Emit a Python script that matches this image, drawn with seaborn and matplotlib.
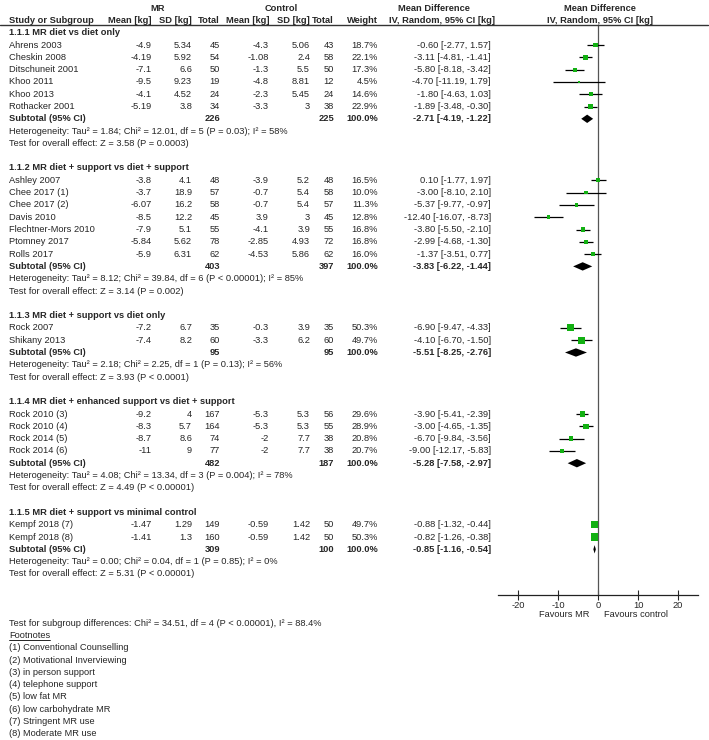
import numpy as np
import pandas as pd
import matplotlib
matplotlib.use("Agg")
import matplotlib.pyplot as plt
import matplotlib.transforms as mtransforms
import seaborn as sns

# ---- data ----
group_titles = ["1.1.1 MR diet vs diet only",
                "1.1.2 MR diet + support vs diet + support",
                "1.1.3 MR diet + support vs diet only",
                "1.1.4 MR diet + enhanced support vs diet + support",
                "1.1.5 MR diet + support vs minimal control"]

studies = ["Ahrens 2003", "Cheskin 2008", "Ditschuneit 2001", "Khoo 2011", "Khoo 2013", "Rothacker 2001",
           "Ashley 2007", "Chee 2017 (1)", "Chee 2017 (2)", "Davis 2010", "Flechtner-Mors 2010",
           "Ptomney 2017", "Rolls 2017",
           "Rock 2007", "Shikany 2013",
           "Rock 2010 (3)", "Rock 2010 (4)", "Rock 2014 (5)", "Rock 2014 (6)",
           "Kempf 2018 (7)", "Kempf 2018 (8)"]
study_group = [0] * 6 + [1] * 7 + [2] * 2 + [3] * 4 + [4] * 2

mr_mean = [-4.9, -4.19, -7.1, -9.5, -4.1, -5.19,
           -3.8, -3.7, -6.07, -8.5, -7.9, -5.84, -5.9,
           -7.2, -7.4,
           -9.2, -8.3, -8.7, -11,
           -1.47, -1.41]
mr_sd = [5.34, 5.92, 6.6, 9.23, 4.52, 3.8,
         4.1, 18.9, 16.2, 12.2, 5.1, 5.62, 6.31,
         6.7, 8.2,
         4, 5.7, 8.6, 9,
         1.29, 1.3]
mr_n = [45, 54, 50, 19, 24, 34,
        48, 57, 58, 45, 55, 78, 62,
        35, 60,
        167, 164, 74, 77,
        149, 160]
ctl_mean = [-4.3, -1.08, -1.3, -4.8, -2.3, -3.3,
            -3.9, -0.7, -0.7, 3.9, -4.1, -2.85, -4.53,
            -0.3, -3.3,
            -5.3, -5.3, -2, -2,
            -0.59, -0.59]
ctl_sd = [5.06, 2.4, 5.5, 8.81, 5.45, 3,
          5.2, 5.4, 5.4, 3, 3.9, 4.93, 5.86,
          3.9, 6.2,
          5.3, 5.3, 7.7, 7.7,
          1.42, 1.42]
ctl_n = [43, 58, 50, 12, 24, 38,
         48, 58, 57, 45, 55, 72, 62,
         35, 60,
         56, 55, 38, 38,
         50, 50]
weight = [18.7, 22.1, 17.3, 4.5, 14.6, 22.9,
          16.5, 10.0, 11.3, 12.8, 16.8, 16.8, 16.0,
          50.3, 49.7,
          29.6, 28.9, 20.8, 20.7,
          49.7, 50.3]
md = [-0.60, -3.11, -5.80, -4.70, -1.80, -1.89,
      0.10, -3.00, -5.37, -12.40, -3.80, -2.99, -1.37,
      -6.90, -4.10,
      -3.90, -3.00, -6.70, -9.00,
      -0.88, -0.82]
md_lo = [-2.77, -4.81, -8.18, -11.19, -4.63, -3.48,
         -1.77, -8.10, -9.77, -16.07, -5.50, -4.68, -3.51,
         -9.47, -6.70,
         -5.41, -4.65, -9.84, -12.17,
         -1.32, -1.26]
md_hi = [1.57, -1.41, -3.42, 1.79, 1.03, -0.30,
         1.97, 2.10, -0.97, -8.73, -2.10, -1.30, 0.77,
         -4.33, -1.50,
         -2.39, -1.35, -3.56, -5.83,
         -0.44, -0.38]

sub_mr_n = [226, 403, 95, 482, 309]
sub_ctl_n = [225, 397, 95, 187, 100]
sub_md = [-2.71, -3.83, -5.51, -5.28, -0.85]
sub_lo = [-4.19, -6.22, -8.25, -7.58, -1.16]
sub_hi = [-1.22, -1.44, -2.76, -2.97, -0.54]
heterogeneity = ["Tau² = 1.84; Chi² = 12.01, df = 5 (P = 0.03); I² = 58%",
                 "Tau² = 8.12; Chi² = 39.84, df = 6 (P < 0.00001); I² = 85%",
                 "Tau² = 2.18; Chi² = 2.25, df = 1 (P = 0.13); I² = 56%",
                 "Tau² = 4.08; Chi² = 13.34, df = 3 (P = 0.004); I² = 78%",
                 "Tau² = 0.00; Chi² = 0.04, df = 1 (P = 0.85); I² = 0%"]
overall = ["Z = 3.58 (P = 0.0003)", "Z = 3.14 (P = 0.002)", "Z = 3.93 (P < 0.0001)",
           "Z = 4.49 (P < 0.00001)", "Z = 5.31 (P < 0.00001)"]
subgroup_test = "Test for subgroup differences: Chi² = 34.51, df = 4 (P < 0.00001), I² = 88.4%"
footnotes = ["(1) Conventional Counselling", "(2) Motivational Inverviewing", "(3) in person support",
             "(4) telephone support", "(5) low fat MR", "(6) low carbohydrate MR",
             "(7) Stringent MR use", "(8) Moderate MR use"]
xticks = [-20, -10, 0, 10, 20]

# ---- layout ----
sns.set_style("white")
plt.rcParams['font.family'] = ['Liberation Sans', 'DejaVu Sans']
FS = 6.7
W, H = 709, 740
GREEN = "#12b012"

fig = plt.figure(figsize=(W / 100, H / 100), dpi=100)
ax_top_px, ax_bot_px = 25, 595
ax = fig.add_axes([498 / W, 1 - ax_bot_px / H, 200 / W, (ax_bot_px - ax_top_px) / H])

row_px = 12.3
row0_px = 32.7
ylim_top = (ax_top_px - row0_px) / row_px
ylim_bot = (ax_bot_px - row0_px) / row_px

trans = mtransforms.blended_transform_factory(fig.transFigure, ax.transData)


def put(xpx, row, s, ha="right", bold=False):
    return ax.text(xpx / W, row, s, transform=trans, ha=ha, va="center", fontsize=FS,
                   fontweight="bold" if bold else "normal", clip_on=False)


def fmt(v):
    return "%g" % v


# assign rows
study_rows = []
sub_rows = []
row = 0
for g, title in enumerate(group_titles):
    put(9, row, title, ha="left", bold=True)
    row += 1
    for i, s in enumerate(studies):
        if study_group[i] == g:
            study_rows.append(row)
            row += 1
    sub_rows.append(row)
    put(9, row + 1, "Heterogeneity: " + heterogeneity[g], ha="left")
    put(9, row + 2, "Test for overall effect: " + overall[g], ha="left")
    row += 4

df = pd.DataFrame({"study": studies, "row": study_rows, "md": md, "lo": md_lo, "hi": md_hi,
                   "weight": weight})

# table columns (right edges in px)
cols_x = [152, 192, 220, 269, 310, 334]
for i, r in enumerate(study_rows):
    put(9, r, studies[i], ha="left")
    vals = [mr_mean[i], mr_sd[i], mr_n[i], ctl_mean[i], ctl_sd[i], ctl_n[i]]
    for x, v in zip(cols_x, vals):
        put(x, r, fmt(v))
    put(378, r, "%.1f%%" % weight[i])
    put(491, r, "%.2f [%.2f, %.2f]" % (md[i], md_lo[i], md_hi[i]))

for g, r in enumerate(sub_rows):
    put(9, r, "Subtotal (95% CI)", ha="left", bold=True)
    put(220, r, str(sub_mr_n[g]), bold=True)
    put(334, r, str(sub_ctl_n[g]), bold=True)
    put(378, r, "100.0%", bold=True)
    put(491, r, "%.2f [%.2f, %.2f]" % (sub_md[g], sub_lo[g], sub_hi[g]), bold=True)

# header
put(158, -2, "MR", ha="center", bold=True)
put(281, -2, "Control", ha="center", bold=True)
put(9, -1, "Study or Subgroup", ha="left", bold=True)
for x, s in zip(cols_x + [378], ["Mean [kg]", "SD [kg]", "Total", "Mean [kg]", "SD [kg]", "Total", "Weight"]):
    put(x, -1, s, bold=True)
put(434, -2, "Mean Difference", ha="center", bold=True)
put(442, -1, "IV, Random, 95% CI [kg]", ha="center", bold=True)
put(600, -2, "Mean Difference", ha="center", bold=True)
put(600, -1, "IV, Random, 95% CI [kg]", ha="center", bold=True)
ax.plot([0, 708 / W], [ylim_top, ylim_top], transform=trans, color="#333333", lw=1.0, clip_on=False)

# bottom notes
put(9, 48, subgroup_test, ha="left")
fn = put(9, 49, "Footnotes", ha="left")
for k, s in enumerate(footnotes):
    put(9, 50 + k, s, ha="left")

# ---- forest plot ----
ax.axvline(0, color="#555555", lw=0.9, zorder=1)
ax.hlines(df["row"], df["lo"], df["hi"], color="black", lw=0.9, zorder=2)
sns.scatterplot(data=df, x="md", y="row", size="weight", sizes=(0, 52), size_norm=(0, 100),
                marker="s", color=GREEN, linewidth=0, legend=False, ax=ax, zorder=3)
h = 0.34
for g, r in enumerate(sub_rows):
    ax.fill([sub_lo[g], sub_md[g], sub_hi[g], sub_md[g]], [r, r - h, r, r + h],
            color="black", lw=0, zorder=3)

ax.set_xlim(-25, 25)
ax.set_ylim(ylim_bot, ylim_top)
ax.set_xlabel("")
ax.set_ylabel("")
ax.set_yticks([])
ax.set_xticks(xticks)
ax.set_xticklabels([str(t) for t in xticks])
ax.tick_params(axis="x", direction="inout", length=7, width=0.8, pad=0.5, labelsize=FS, bottom=True)
for sp in ["top", "left", "right"]:
    ax.spines[sp].set_visible(False)
ax.spines["bottom"].set_color("#222222")
ax.spines["bottom"].set_linewidth(0.9)
ax.patch.set_alpha(0)

ax.text(-2.2, 47.3, "Favours MR", ha="right", va="center", fontsize=FS, clip_on=False)
ax.text(1.5, 47.3, "Favours control", ha="left", va="center", fontsize=FS, clip_on=False)

# underline "Footnotes"
fig.canvas.draw()
bb = fn.get_window_extent(renderer=fig.canvas.get_renderer())
uy = bb.y0 - 0.5
fig.add_artist(plt.Line2D([bb.x0 / W, bb.x1 / W], [uy / H, uy / H], color="black", lw=0.6))

fig.savefig("out.png", dpi=100)
